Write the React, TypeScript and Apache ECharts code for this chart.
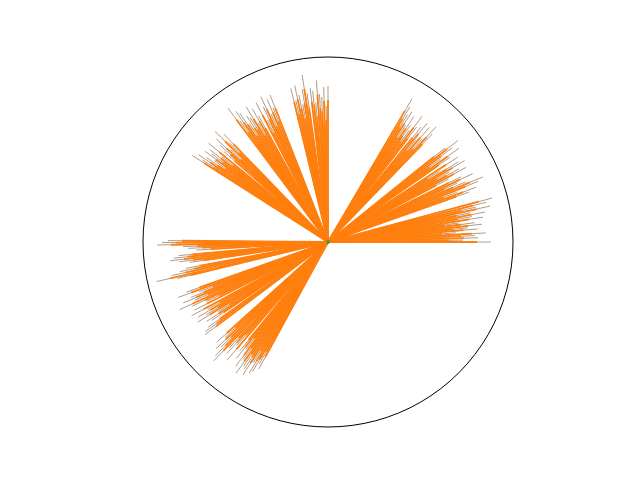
import React, { useEffect, useRef } from "react";
import * as echarts from "echarts";

// Ray angles (degrees, counter-clockwise from east) and lengths, grouped by wedge
const wedgeAAngles = [0, 0.8, 1.6, 2.5, 3.3, 4.1, 5, 5.8, 6.6, 7.5, 8.3, 9.1, 10, 10.8, 11.6, 12.5, 13.3, 14.1, 15];
const wedgeALengths = [163, 135, 150, 147, 158, 128, 150, 140, 155, 148, 132, 157, 146, 160, 145, 166, 152, 163, 170];
const wedgeBAngles = [19.5, 20.3, 21.1, 22, 22.8, 23.6, 24.5, 25.3, 26.1, 27.6, 28.4, 29.2, 30, 30.8, 31.6, 32.4, 33.2, 34.8, 35.6, 36.4, 37.2, 38, 38.8];
const wedgeBLengths = [150, 158, 138, 162, 168, 150, 142, 160, 148, 136, 157, 150, 140, 159, 153, 132, 155, 149, 161, 140, 156, 165, 150];
const wedgeCAngles = [46, 46.8, 47.6, 48.5, 49.3, 50.1, 51, 52.4, 53.2, 54, 54.8, 55.6, 56.4, 57.2, 58, 58.8, 59.6];
const wedgeCLengths = [150, 158, 140, 153, 135, 155, 148, 145, 157, 138, 143, 152, 140, 155, 150, 158, 166];
const wedgeDAngles = [90, 90.8, 91.6, 92.5, 93.3, 94.1, 95, 95.8, 96.6, 98, 98.8, 99.6, 100.4, 101.2, 102, 102.8, 103.6];
const wedgeDLengths = [156, 136, 155, 145, 148, 162, 140, 152, 155, 150, 169, 155, 140, 150, 160, 145, 158];
const wedgeEAngles = [111.5, 112.3, 113.1, 114, 114.8, 115.6, 116.5, 117.3, 118.8, 119.6, 120.4, 121.2, 122, 122.8, 123.6, 124.4, 125.2, 126, 126.8];
const wedgeELengths = [158, 145, 155, 140, 160, 150, 136, 157, 144, 153, 138, 158, 147, 150, 142, 156, 160, 150, 167];
const wedgeFAngles = [134, 134.8, 135.6, 136.5, 137.3, 138.1, 139, 140.4, 141.2, 142, 142.8, 143.6, 144.4, 145.2, 146, 146.8, 147.5];
const wedgeFLengths = [150, 140, 158, 134, 152, 145, 138, 155, 136, 150, 146, 153, 140, 148, 156, 150, 161];
const wedgeGAngles = [179.5, 180.2, 181, 181.8, 182.6, 183.5, 185.2, 186, 186.8, 187.6, 188.4, 190.5, 191.3, 192.1, 193, 193.6];
const wedgeGLengths = [160, 166, 171, 145, 140, 132, 150, 155, 159, 150, 140, 145, 151, 160, 176, 155];
const wedgeHAngles = [199.5, 200.3, 201.1, 202, 202.8, 203.6, 204.5, 205.3, 206.1, 207, 208.4, 209.2, 210, 210.8, 211.6, 212.4, 213.2, 214, 215.4, 216.2, 217];
const wedgeHLengths = [150, 160, 138, 148, 157, 145, 163, 150, 135, 150, 155, 138, 150, 142, 153, 130, 145, 140, 147, 152, 154];
const wedgeIAngles = [222, 222.8, 223.6, 224.5, 225.3, 226.1, 227, 227.8, 228.6, 229.5, 231, 231.8, 232.6, 233.4, 234.2, 235, 235.8, 236.6, 237.4, 238.2, 239, 239.8, 240.6, 241.4];
const wedgeILengths = [150, 140, 155, 150, 160, 165, 145, 150, 138, 155, 140, 148, 135, 155, 145, 160, 150, 152, 158, 142, 153, 150, 140, 145];

const RADIUS_MAX = 185;

const allAngles = [
  ...wedgeAAngles, ...wedgeBAngles, ...wedgeCAngles, ...wedgeDAngles, ...wedgeEAngles,
  ...wedgeFAngles, ...wedgeGAngles, ...wedgeHAngles, ...wedgeIAngles,
];
const allLengths = [
  ...wedgeALengths, ...wedgeBLengths, ...wedgeCLengths, ...wedgeDLengths, ...wedgeELengths,
  ...wedgeFLengths, ...wedgeGLengths, ...wedgeHLengths, ...wedgeILengths,
];

export default function App() {
  const ref = useRef<HTMLDivElement>(null);
  useEffect(() => {
    if (!ref.current) return;
    const chart = echarts.init(ref.current, undefined, { renderer: "svg" });
    const data = allAngles.map((a, i) => [allLengths[i], a]);
    const makeRender = (color: string, width: number, shorten: number) =>
      (params: any, api: any) => {
        const r = api.value(0);
        const a = api.value(1);
        const p0 = api.coord([0, a]);
        const p1 = api.coord([Math.max(0, r - shorten), a]);
        return {
          type: "line",
          shape: { x1: p0[0], y1: p0[1], x2: p1[0], y2: p1[1] },
          style: { stroke: color, lineWidth: width },
        };
      };
    chart.setOption({
      animation: false,
      backgroundColor: "#ffffff",
      polar: { center: [328, 242], radius: 185 },
      angleAxis: {
        type: "value",
        min: 0,
        max: 360,
        startAngle: 0,
        clockwise: false,
        axisLine: { show: true, lineStyle: { color: "#000000", width: 1 } },
        axisTick: { show: false },
        axisLabel: { show: false },
        splitLine: { show: false },
      },
      radiusAxis: {
        type: "value",
        min: 0,
        max: RADIUS_MAX,
        axisLine: { show: false },
        axisTick: { show: false },
        axisLabel: { show: false },
        splitLine: { show: false },
      },
      series: [
        {
          type: "custom",
          coordinateSystem: "polar",
          renderItem: makeRender("#b59a84", 1, 0),
          encode: { radius: 0, angle: 1 },
          data,
          silent: true,
        },
        {
          type: "custom",
          coordinateSystem: "polar",
          renderItem: makeRender("#ff7f0e", 1.8, 14),
          encode: { radius: 0, angle: 1 },
          data,
          silent: true,
        },
        {
          type: "scatter",
          coordinateSystem: "polar",
          data: [[0, 0]],
          symbolSize: 4,
          itemStyle: { color: "#2ca02c" },
          silent: true,
        },
      ],
    });
    return () => chart.dispose();
  }, []);
  return (
    <div
      ref={ref}
      style={{ position: "fixed", left: 0, top: 0, width: 640, height: 480 }}
    />
  );
}
